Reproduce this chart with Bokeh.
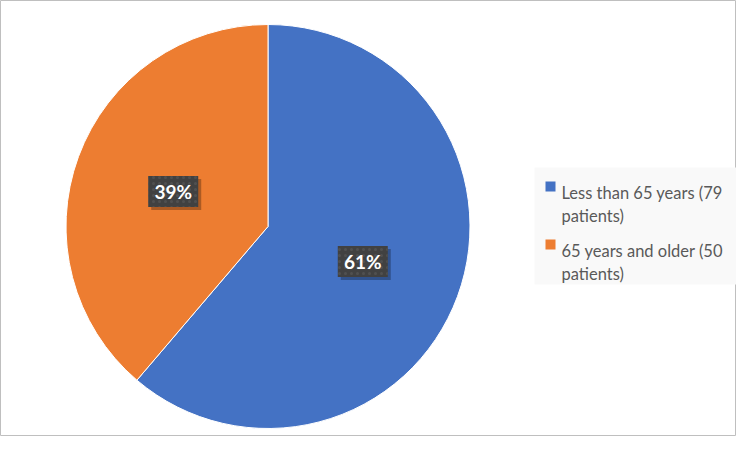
import textwrap
import numpy as np
from bokeh.plotting import figure
from bokeh.models import Range1d, ColumnDataSource
from bokeh.core.properties import value
from bokeh.embed import file_html
from bokeh.resources import INLINE

# ---- data ----
categories = ["Less than 65 years (79 patients)", "65 years and older (50 patients)"]
patients = [79, 50]
colors = ["#4472C4", "#ED7D31"]

W, H = 736, 436
p = figure(width=W, height=H, output_backend="svg", toolbar_location=None,
           x_range=Range1d(0, W), y_range=Range1d(0, H), min_border=0)
p.axis.visible = False
p.grid.visible = False
p.outline_line_color = "#bfbfbf"
p.outline_line_width = 1
p.background_fill_color = "white"
p.border_fill_color = "white"

# pie geometry
cx, cy, r = 267.5, 210, 202
vals = np.array(patients, dtype=float)
frac = vals / vals.sum()
cum = np.concatenate([[0], np.cumsum(frac)])
start = np.pi / 2 - 2 * np.pi * cum[:-1]
end = np.pi / 2 - 2 * np.pi * cum[1:]
mid = (start + end) / 2
pct = [f"{round(f * 100)}%" for f in frac]

src = ColumnDataSource(dict(start=start, end=end, color=colors,
                            lx=cx + 0.5 * r * np.cos(mid),
                            ly=cy + 0.5 * r * np.sin(mid),
                            pct=pct))
p.wedge(x=cx, y=cy, radius=r, start_angle="end", end_angle="start",
        fill_color="color", line_color="white", line_width=1, source=src)

# data labels with shadow
src_sh = ColumnDataSource(dict(x=src.data["lx"] + 3, y=src.data["ly"] - 3))
p.rect(x="x", y="y", width=50, height=31, fill_color="black", fill_alpha=0.28,
       line_color=None, source=src_sh)
p.rect(x="lx", y="ly", width=50, height=31, fill_color="#414141",
       line_color=None, hatch_pattern="dot", hatch_color="#505050",
       hatch_scale=6, hatch_weight=0.5, source=src)
p.text(x="lx", y="ly", text="pct", text_color="white", text_font=value("Lato"),
       text_font_style="bold", text_font_size="19px", text_align="center",
       text_baseline="middle", source=src)

# legend
p.quad(left=534, right=736, bottom=152, top=269, fill_color="#f9f9f9", line_color=None)
item_top = 250
spacing = 58
for i, (cat, col) in enumerate(zip(categories, colors)):
    yc = item_top - i * spacing
    p.rect(x=[550], y=[yc], width=10, height=10, fill_color=col, line_color=None)
    lines = textwrap.wrap(cat, 22)
    ys = [yc - 6 - 23 * k for k in range(len(lines))]
    p.text(x=[561] * len(lines), y=ys, text=lines, text_color="#595959",
           text_font=value("Lato"), text_font_size="16.5px", text_align="left",
           text_baseline="alphabetic")

open("out.html", "w").write(file_html(p, INLINE))
